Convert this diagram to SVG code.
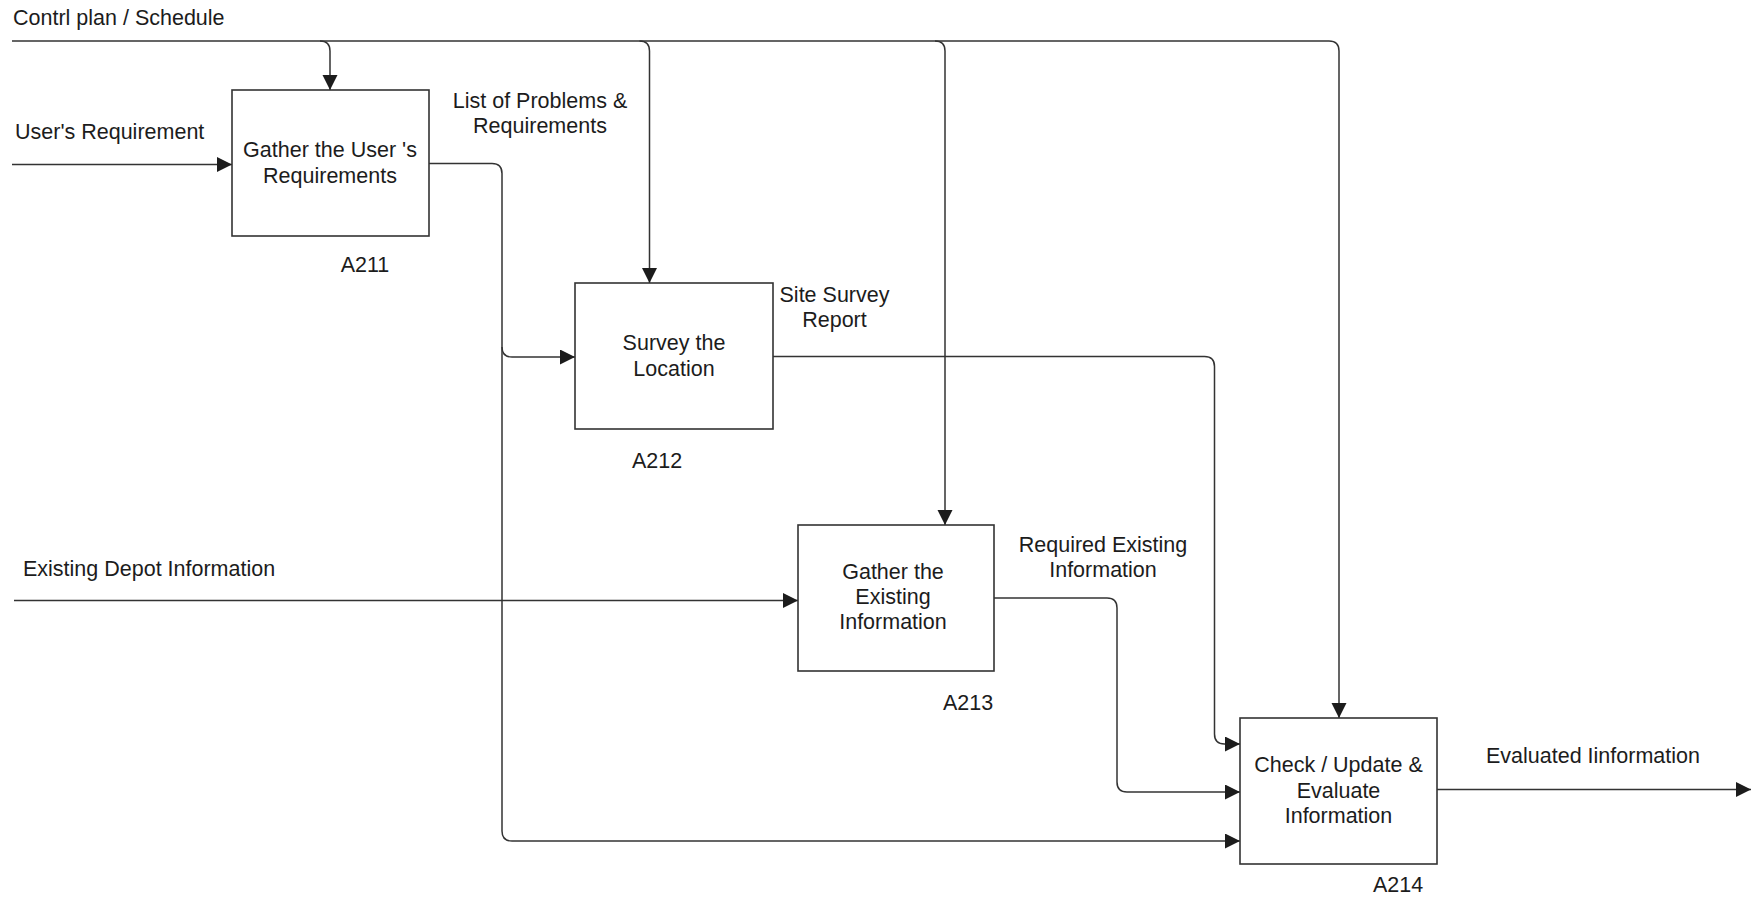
<svg xmlns="http://www.w3.org/2000/svg" width="1751" height="899" viewBox="0 0 1751 899">
  <style>
    .box { fill: #ffffff; stroke: #333333; stroke-width: 1.6; }
    .wire { fill: none; stroke: #333333; stroke-width: 1.5; }
    .t { font-family: "Liberation Sans", Arial, sans-serif; font-size: 21.5px; fill: #1c1c1c; }
    .c { text-anchor: middle; }
  </style>
  <defs>
    <marker id="arrow" markerUnits="userSpaceOnUse" markerWidth="16" markerHeight="16" refX="15" refY="7.5" orient="auto">
      <path d="M0,0 L15,7.5 L0,15 Z" fill="#1c1c1c"/>
    </marker>
  </defs>

  <rect width="1751" height="899" fill="#ffffff"/>

  <!-- connectors -->
  <g id="connectors">
    <!-- control: plan / schedule bus with its branches -->
    <path class="wire" d="M12,41 H1329 Q1339,41 1339,51 V718" marker-end="url(#arrow)"/>
    <path class="wire" d="M320,41 Q330,41 330,51 V90" marker-end="url(#arrow)"/>
    <path class="wire" d="M639.5,41 Q649.5,41 649.5,51 V283" marker-end="url(#arrow)"/>
    <path class="wire" d="M935,41 Q945,41 945,51 V525" marker-end="url(#arrow)"/>

    <!-- inputs -->
    <path class="wire" d="M12,164.5 H232" marker-end="url(#arrow)"/>
    <path class="wire" d="M14,600.5 H798" marker-end="url(#arrow)"/>

    <!-- A211 output: list of problems & requirements -->
    <path class="wire" d="M429,163.5 H492 Q502,163.5 502,173.5 V831 Q502,841 512,841 H1240" marker-end="url(#arrow)"/>
    <path class="wire" d="M502,347 Q502,357 512,357 H575" marker-end="url(#arrow)"/>

    <!-- A212 output: site survey report -->
    <path class="wire" d="M773,356.5 H1204.5 Q1214.5,356.5 1214.5,366.5 V734 Q1214.5,744 1224.5,744 H1240" marker-end="url(#arrow)"/>

    <!-- A213 output: required existing information -->
    <path class="wire" d="M994,598 H1107 Q1117,598 1117,608 V782 Q1117,792 1127,792 H1240" marker-end="url(#arrow)"/>

    <!-- A214 output -->
    <path class="wire" d="M1437,789.5 H1751" marker-end="url(#arrow)"/>

    <!-- arrow labels -->
    <text class="t" x="13" y="25">Contrl plan / Schedule</text>
    <text class="t" x="15" y="139">User's Requirement</text>
    <text class="t c" x="540" y="108">List of Problems &amp;</text>
    <text class="t c" x="540" y="133">Requirements</text>
    <text class="t c" x="834.5" y="302">Site Survey</text>
    <text class="t c" x="834.5" y="327">Report</text>
    <text class="t" x="23" y="576">Existing Depot Information</text>
    <text class="t c" x="1103" y="552">Required Existing</text>
    <text class="t c" x="1103" y="577">Information</text>
    <text class="t" x="1486" y="763">Evaluated Iinformation</text>
  </g>

  <!-- activity boxes -->
  <g id="A211">
    <rect class="box" x="232" y="90" width="197" height="146"/>
    <text class="t c" x="330" y="157">Gather the User 's</text>
    <text class="t c" x="330" y="183">Requirements</text>
    <text class="t c" x="365" y="272">A211</text>
  </g>

  <g id="A212">
    <rect class="box" x="575" y="283" width="198" height="146"/>
    <text class="t c" x="674" y="350">Survey the</text>
    <text class="t c" x="674" y="376">Location</text>
    <text class="t c" x="657" y="468">A212</text>
  </g>

  <g id="A213">
    <rect class="box" x="798" y="525" width="196" height="146"/>
    <text class="t c" x="893" y="579">Gather the</text>
    <text class="t c" x="893" y="604">Existing</text>
    <text class="t c" x="893" y="629">Information</text>
    <text class="t c" x="968" y="710">A213</text>
  </g>

  <g id="A214">
    <rect class="box" x="1240" y="718" width="197" height="146"/>
    <text class="t c" x="1338.5" y="772">Check / Update &amp;</text>
    <text class="t c" x="1338.5" y="798">Evaluate</text>
    <text class="t c" x="1338.5" y="823">Information</text>
    <text class="t c" x="1398" y="892">A214</text>
  </g>
</svg>
